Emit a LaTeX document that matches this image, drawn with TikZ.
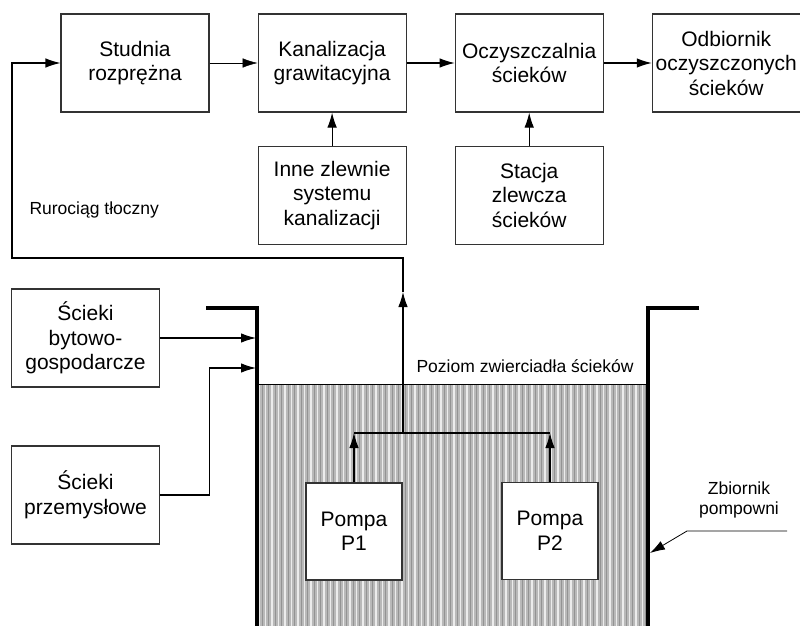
\documentclass[tikz,border=0pt]{standalone}
\usepackage{fontspec}
\setmainfont{Liberation Sans}
\usepackage{tikz}
\usetikzlibrary{arrows.meta, positioning}

\begin{document}
\begin{tikzpicture}[x=1pt, y=-1pt,
  box/.style={rectangle, draw=black!80, line width=1.1pt, fill=white,
              minimum width=148pt, minimum height=98pt, inner sep=2pt,
              align=center, font=\fontsize{21}{24.5}\selectfont},
  pump/.style={box, minimum width=96pt, minimum height=97pt},
  arrow/.style={-{Latex[length=15pt,width=9.5pt]}, line width=1.1pt},
  note/.style={font=\fontsize{17.5}{20}\selectfont, align=center},
  wall/.style={line width=3.2pt}
]
\useasboundingbox (0,0) rectangle (800,626);

% ciecz w zbiorniku
\fill[gray!55] (257,384) rectangle (648,626);
\foreach \x in {259,265.5,...,646} {
  \draw[gray!15, line width=1.3pt] (\x,384) -- (\x,626);
  \draw[gray!85, line width=0.9pt] (\x+3.2,384) -- (\x+3.2,626);
}
\draw[line width=1pt] (257,384) -- (648,384);
\draw[wall] (206,308) -- (257,308) -- (257,626);
\draw[wall] (699,308) -- (648,308) -- (648,626);

\node[box] (stud) at (135,63) {Studnia\\rozprężna};
\node[box, right=48pt of stud] (kan) {Kanalizacja\\grawitacyjna};
\node[box, right=48pt of kan] (oczy) {Oczyszczalnia\\ścieków};
\node[box, right=48pt of oczy] (odb) {Odbiornik\\oczyszczonych\\ścieków};
\node[box, below=33pt of kan] (inne) {Inne zlewnie\\systemu\\kanalizacji};
\node[box, below=33pt of oczy] (stac) {Stacja\\zlewcza\\ścieków};
\node[box] (byt) at (85.5,338) {Ścieki\\bytowo-\\gospodarcze};
\node[box] (prz) at (85.5,495) {Ścieki\\przemysłowe};
\node[pump] (p1) at (354,531.5) {Pompa\\P1};
\node[pump] (p2) at (550,531) {Pompa\\P2};

\node[note, anchor=west] (ruro) at (26,210) {Rurociąg tłoczny};
\node[note] (poz) at (525,366) {Poziom zwierciadła ścieków};
\node[note] (zb) at (739,500) {Zbiornik\\pompowni};

\draw[arrow, line width=0.5pt] (stud) -- (kan);
\draw[arrow] (kan) -- (oczy);
\draw[arrow] (oczy) -- (odb);
\draw[arrow] (inne) -- (kan);
\draw[arrow] (stac) -- (oczy);

% rurociag tloczny
\coordinate (jn) at (403,433);
\coordinate (mid) at (403,292);
\coordinate (bend) at (403,258);
\coordinate (corner) at (12,63);
\draw[arrow] (p1.north) -- (p1.north |- jn);
\draw[arrow] (p2.north) -- (p2.north |- jn);
\draw[line width=1.1pt] (p1.north |- jn) -- (p2.north |- jn);
\draw[arrow] (jn) -- (mid);
\draw[arrow] (mid) -- (bend) -| (corner) -- (stud.west);

% doplywy
\coordinate (in1) at (256,338);
\coordinate (in2) at (256,368);
\draw[arrow] (byt.east) -- (in1);
\draw[arrow] (prz.east) -- ++(49,0) |- (in2);

\coordinate (zend) at (787,531);
\coordinate (zbend) at (687,531);
\coordinate (zwall) at (650,553);
\draw[arrow, line width=0.8pt] (zend) -- (zbend) -- (zwall);
\end{tikzpicture}
\end{document}
